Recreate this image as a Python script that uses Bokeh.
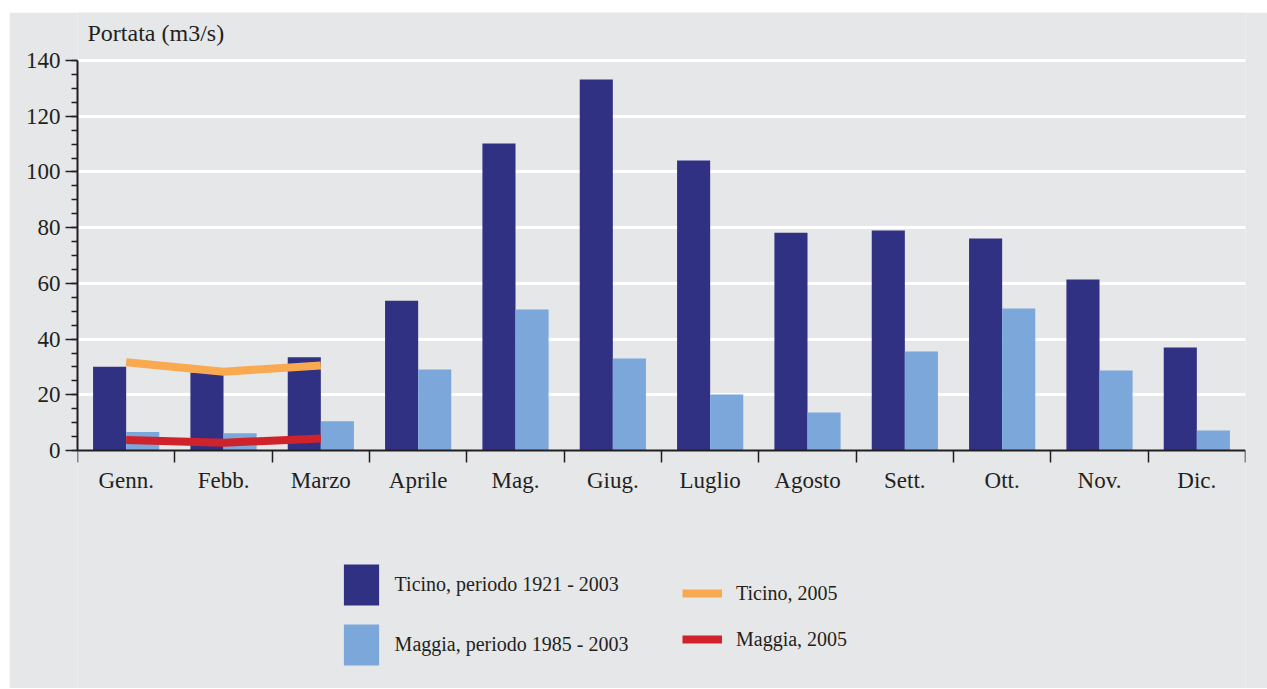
from bokeh.plotting import figure
from bokeh.models import (Range1d, FixedTicker, SingleIntervalTicker, CustomJSTickFormatter,
                          Legend, LegendItem, Spacer, ColumnDataSource, Label)
from bokeh.layouts import column, row
from bokeh.embed import file_html
from bokeh.resources import INLINE

months = ["Genn.", "Febb.", "Marzo", "Aprile", "Mag.", "Giug.", "Luglio",
          "Agosto", "Sett.", "Ott.", "Nov.", "Dic."]
ticino_1921_2003 = [30.1, 28.0, 33.5, 53.8, 110.2, 133.2, 104.1, 78.2, 79.0, 76.1, 61.4, 37.0]
maggia_1985_2003 = [6.6, 6.2, 10.5, 29.1, 50.6, 33.0, 20.1, 13.6, 35.5, 51.0, 28.7, 7.2]
months_2005 = ["Genn.", "Febb.", "Marzo"]
ticino_2005 = [31.7, 28.3, 30.5]
maggia_2005 = [3.8, 2.8, 4.3]
y_ticks_max = 140

BG = "#e6e7e8"
TXT = "#231f20"
FONT = "Liberation Serif"
DARK = "#303182"
LIGHT = "#7ba7db"
ORANGE = "#f9a94f"
RED = "#d0222b"

# geometry (pixels)
FIG_X, FIG_Y = 9, 12
FIG_W, FIG_H = 1258, 676
B_LEFT, B_RIGHT = 68, 22
AXIS_TOP_PX = 60          # page y of the 140 level
PX_PER_UNIT = 390 / 140
frame_top = FIG_Y
frame_bottom = FIG_Y + FIG_H
frame_left = FIG_X + B_LEFT
y_end = y_ticks_max + (AXIS_TOP_PX - frame_top) / PX_PER_UNIT
y_start = y_end - FIG_H / PX_PER_UNIT

centers = [i + 0.5 for i in range(len(months))]
bar_w = 0.34
src = ColumnDataSource(dict(
    x_dark=[c - bar_w / 2 for c in centers],
    x_light=[c + bar_w / 2 for c in centers],
    ticino=ticino_1921_2003,
    maggia=maggia_1985_2003,
))
idx05 = [months.index(m) + 0.5 for m in months_2005]

p = figure(width=FIG_W, height=FIG_H, x_range=Range1d(0, len(months)),
           y_range=Range1d(y_start, y_end),
           output_backend="svg", toolbar_location=None,
           min_border_left=B_LEFT, min_border_right=B_RIGHT, min_border_top=0,
           min_border_bottom=0)
p.background_fill_color = BG
p.border_fill_color = BG
p.outline_line_color = None

r_dark = p.vbar(x="x_dark", top="ticino", width=bar_w, bottom=0, source=src,
                fill_color=DARK, line_color=None)
r_light = p.vbar(x="x_light", top="maggia", width=bar_w, bottom=0, source=src,
                 fill_color=LIGHT, line_color=None)
r_or = p.line(idx05, ticino_2005, line_color=ORANGE, line_width=8)
r_red = p.line(idx05, maggia_2005, line_color=RED, line_width=8)

# axes
xa = p.xaxis[0]
xa.fixed_location = 0
xa.ticker = FixedTicker(ticks=centers, minor_ticks=list(range(len(months) + 1)))
xa.formatter = CustomJSTickFormatter(args=dict(labels=months),
                                     code="return labels[Math.floor(tick)];")
xa.major_tick_out = 0
xa.major_tick_in = 0
xa.minor_tick_out = 12
xa.minor_tick_in = 0
xa.minor_tick_line_color = TXT
xa.minor_tick_line_width = 1.5
xa.axis_line_color = TXT
xa.axis_line_width = 2
xa.major_label_text_font = FONT
xa.major_label_text_font_size = "23px"
xa.major_label_text_color = TXT
xa.major_label_standoff = 5

ya = p.yaxis[0]
ya.ticker = SingleIntervalTicker(interval=20, num_minor_ticks=4)
ya.bounds = (0, y_ticks_max)
ya.major_tick_out = 12
ya.major_tick_in = 0
ya.minor_tick_out = 6
ya.minor_tick_in = 0
ya.major_tick_line_color = TXT
ya.minor_tick_line_color = TXT
ya.major_tick_line_width = 1.5
ya.minor_tick_line_width = 1.5
ya.axis_line_color = TXT
ya.axis_line_width = 2
ya.major_label_text_font = FONT
ya.major_label_text_font_size = "23px"
ya.major_label_text_color = TXT
ya.major_label_standoff = 5

p.xgrid.grid_line_color = None
p.ygrid.grid_line_color = "white"
p.ygrid.grid_line_width = 3
p.ygrid.bounds = (1, y_ticks_max)

title = Label(text="Portata (m3/s)", x=87 - frame_left, y=frame_bottom - 32,
              x_units="screen", y_units="screen", text_baseline="middle", text_align="left",
              text_font=FONT, text_font_size="24px", text_color=TXT)
p.add_layout(title)

common = dict(padding=0, margin=0, border_line_color=None, background_fill_alpha=0,
              label_text_font=FONT, label_text_font_size="20px", label_text_color=TXT,
              orientation="vertical")
leg1 = Legend(items=[LegendItem(label="Ticino, periodo 1921 - 2003", renderers=[r_dark]),
                     LegendItem(label="Maggia, periodo 1985 - 2003", renderers=[r_light])],
              location=(338.6 - frame_left, frame_bottom - 669.9),
              glyph_width=44, glyph_height=51, spacing=9, label_standoff=12, **common)
leg2 = Legend(items=[LegendItem(label="Ticino, 2005", renderers=[r_or]),
                     LegendItem(label="Maggia, 2005", renderers=[r_red])],
              location=(682 - frame_left, frame_bottom - 654),
              glyph_width=40, glyph_height=30, spacing=16, label_standoff=14, **common)
p.add_layout(leg1)
p.add_layout(leg2)

layout = column(Spacer(width=FIG_W + FIG_X, height=FIG_Y),
                row(Spacer(width=FIG_X, height=FIG_H), p))
open("out.html", "w").write(file_html(layout, INLINE))
